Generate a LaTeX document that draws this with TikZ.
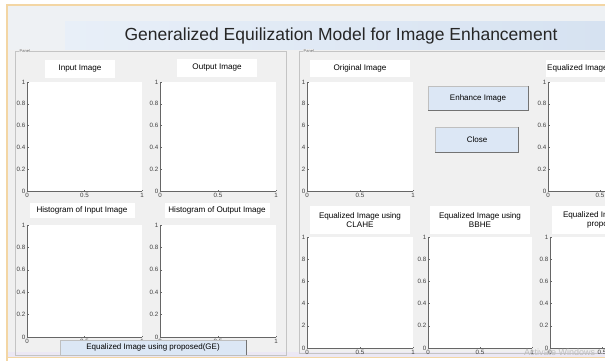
\documentclass[tikz,border=0pt]{standalone}
\usepackage{fontspec}
\setmainfont{Liberation Sans}
\usetikzlibrary{positioning}

\definecolor{guibg}{HTML}{F0F0F0}
\definecolor{framebg}{HTML}{EEF1F4}
\definecolor{winedge}{HTML}{F3D6A4}
\definecolor{bannerL}{HTML}{E8EFF8}
\definecolor{bannerR}{HTML}{D6E2F1}
\definecolor{btnfill}{HTML}{DCE7F5}
\definecolor{paneledge}{HTML}{C4C4C4}
\definecolor{lavender}{HTML}{ECE8F4}

% one MATLAB axes: name, left, top, right, bottom
\newcommand{\guiaxes}[5]{%
  \fill[white] (#2,#3) rectangle (#4,#5);
  \draw[axisline] (#2,#3) -- (#2,#5) -- (#4,#5);
  \foreach \v/\t [count=\i] in {0/0,0.2/0.2,0.4/0.4,0.6/0.6,0.8/0.8,1/1}{
    \draw[axisline] (#2,{#5-\v*(#5-#3)}) -- ++(1.5,0);
    \node[ticklabel, anchor=east] (#1-y\i) at ({#2-1},{#5-\v*(#5-#3)}) {\t};
  }
  \foreach \v/\t [count=\i] in {0/0,0.5/0.5,1/1}{
    \draw[axisline] ({#2+\v*(#4-#2)},#5) -- ++(0,-1.5);
    \node[ticklabel, anchor=north] (#1-x\i) at ({#2+\v*(#4-#2)},{#5+1.5}) {\t};
  }
}

\begin{document}
\begin{tikzpicture}[
  x = 1pt, y = -1pt,
  axisline/.style = {
    draw = black!60,
    line width = 0.5pt
  },
  ticklabel/.style = {
    font = \fontsize{6.2}{7}\selectfont,
    text = black!75,
    inner sep = 0.5pt
  },
  titlebox/.style = {
    fill = white,
    font = \fontsize{8.1}{9.2}\selectfont,
    align = center,
    inner sep = 1pt
  },
  guibutton/.style = {
    fill = btnfill,
    draw = black!25,
    font = \fontsize{8}{9}\selectfont,
    inner sep = 0pt
  },
  paneltag/.style = {
    fill = guibg,
    font = \fontsize{4}{4}\selectfont,
    text = black!60,
    inner sep = 0.5pt
  }
]
  \useasboundingbox (0,0) rectangle (605,361);
  \clip (0,0) rectangle (605,361);

  % window
  \fill[white] (0,0) rectangle (605,361);
  \fill[framebg] (7,5) rectangle (605,357);
  \fill[guibg] (7,50) rectangle (605,357);
  \fill[lavender] (7,352) rectangle (605,357);
  \draw[winedge, line width = 1.5pt] (7,361) -- (7,5) -- (605,5);
  \draw[winedge, line width = 1.5pt] (7,357.5) -- (605,357.5);

  % title banner
  \shade[left color = bannerL, right color = bannerR] (65,22) rectangle (605,50);
  \node[font = \fontsize{17.5}{20}\selectfont, text = black!85] (title) at (341,36)
    {Generalized Equilization Model for Image Enhancement};

  % panels
  \draw[paneledge] (15,51) rectangle (286,355);
  \draw[paneledge] (299,51) rectangle (640,353);
  \node[paneltag, anchor = west] (tagL) at (19,51) {Panel};
  \node[paneltag, anchor = west] (tagR) at (303,51) {Panel};

  % left panel
  \begin{scope}
    \clip (15.5,51.5) rectangle (285.5,354.5);
    \guiaxes{inA}{27}{82}{142}{191}
    \guiaxes{outA}{160}{82}{276}{191}
    \guiaxes{hinA}{27}{225}{142}{337}
    \guiaxes{houtA}{160}{225}{276}{337}
  \end{scope}
  \node[titlebox, minimum width = 70, minimum height = 18] (tIn) at (80,69) {Input Image};
  \node[titlebox, minimum width = 80, minimum height = 18] (tOut) at (217,68) {Output Image};
  \node[titlebox, minimum width = 105, minimum height = 15] (tHin) at (82,210.5) {Histogram of Input Image};
  \node[titlebox, minimum width = 105, minimum height = 15] (tHout) at (217,210.5) {Histogram of Output Image};
  \node[guibutton, minimum width = 186, minimum height = 15] (bGE) at (153,347.5)
    {Equalized Image using proposed(GE)};
  \draw[black!55, line width = 1pt] (bGE.north east) -- (bGE.south east);

  % right panel
  \begin{scope}
    \clip (301,51.5) rectangle (605,357);
    \guiaxes{origA}{307}{82}{413}{191}
    \guiaxes{eqA}{548}{82}{652}{191}
    \guiaxes{claheA}{307}{237}{413}{348}
    \guiaxes{bbheA}{428}{237}{532}{348}
    \guiaxes{geA}{550}{237}{654}{348}
    \node[titlebox, minimum width = 100, minimum height = 17] (tOrig) at (360,68.5) {Original Image};
    \node[titlebox, anchor = west, minimum height = 17] (tEq) at (546,68.5) {Equalized Image};
    \node[titlebox, minimum width = 100, minimum height = 28] (tClahe) at (360,220) {Equalized Image using\\CLAHE};
    \node[titlebox, minimum width = 100, minimum height = 28] (tBbhe) at (480,220) {Equalized Image using\\BBHE};
    \node[titlebox, minimum width = 104, minimum height = 28] (tGe) at (604,220) {Equalized Image using\\proposed};
  \end{scope}
  \node[guibutton, minimum width = 100, minimum height = 24] (bEnh) at (478,98) {Enhance Image};
  \draw[black!55, line width = 1pt] (bEnh.north east) -- (bEnh.south east) -- (bEnh.south west);
  \node[guibutton, minimum width = 83, minimum height = 25] (bClose) at (477,139.5) {Close};
  \draw[black!55, line width = 1pt] (bClose.north east) -- (bClose.south east) -- (bClose.south west);

  % watermark
  \node[font = \fontsize{9}{10}\selectfont, text = black!25, anchor = west, inner sep = 0pt] (wm) at (524,352)
    {Activate Windows};
\end{tikzpicture}
\end{document}
